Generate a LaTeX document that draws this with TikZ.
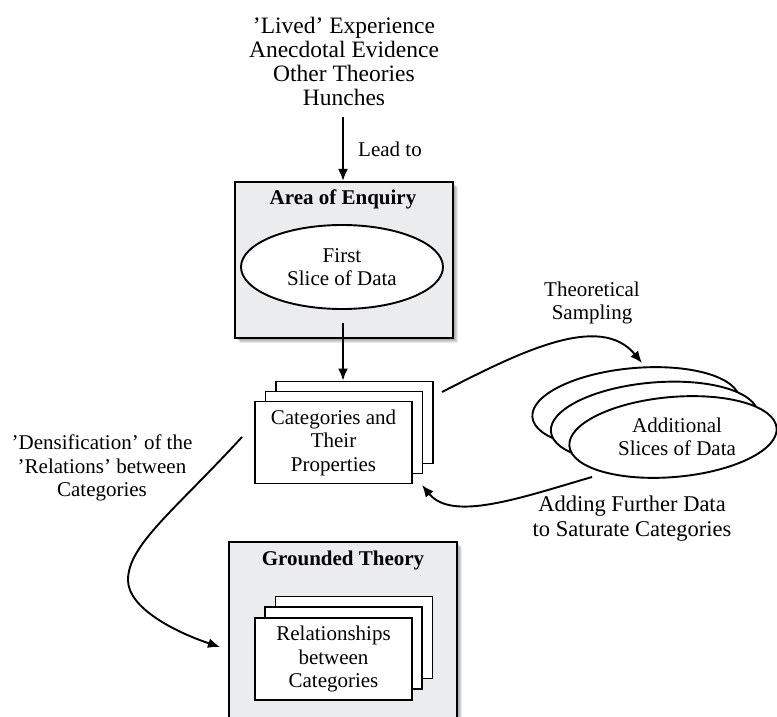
\documentclass[tikz,border=0pt]{standalone}
\usepackage{fontspec}
\setmainfont{Liberation Serif}
\usetikzlibrary{shapes.geometric,arrows.meta,calc}
\definecolor{panelgray}{RGB}{235,236,238}
\tikzset{
  lbl/.style={font=\fontsize{21}{23.5}\selectfont, align=center, inner sep=0pt},
  biglbl/.style={lbl, font=\fontsize{23.5}{24}\selectfont},
  widelbl/.style={lbl, font=\fontsize{22.5}{25}\selectfont},
  ttl/.style={font=\fontsize{21}{23.5}\selectfont\bfseries, inner sep=0pt},
  panel/.style={draw=black, line width=2.2pt, fill=panelgray, inner sep=0pt},
  card/.style={rectangle, draw=black, line width=1.9pt, fill=white,
    minimum width=157pt, minimum height=82pt, lbl},
  blob/.style={ellipse, draw=black, line width=1.9pt, fill=white, lbl},
  flow/.style={line width=1.9pt, -{Latex[length=12pt,width=10pt]}},
  softshadow/.style={fill=black, opacity=0.09},
}
\begin{document}
\begin{tikzpicture}[x=1pt,y=-1pt]
\useasboundingbox (0,0) rectangle (777,717);
\clip (0,0) rectangle (777,717);

% sources
\node[biglbl] (src) at (344,61) {'Lived' Experience\\Anecdotal Evidence\\Other Theories\\Hunches};

% area of enquiry panel with shadow
\foreach \d in {2,3,4,5}
  \fill[softshadow] (235+\d,182+\d) rectangle (453+\d,338+\d);
\node[panel, minimum width=218pt, minimum height=156pt] (area) at (344,260) {};
\node[ttl] (areatitle) at (343,199) {Area of Enquiry};
\node[blob, minimum width=202pt, minimum height=84pt] (first) at (342,267) {First\\Slice of Data};

% categories stack
\node[card] (c3) at (354.5,422.5) {};
\node[card] (c2) at (344,432.5) {};
\node[card] (c1) at (333.5,442.5) {Categories and\\Their\\Properties};

% additional slices
\node[blob, rotate=5, minimum width=208pt, minimum height=80pt] (e3) at (636,408) {};
\node[blob, rotate=5, minimum width=208pt, minimum height=80pt] (e2) at (654.5,422.5) {};
\node[blob, rotate=5, minimum width=208pt, minimum height=80pt] (e1) at (673,437) {};
\node[lbl] (addtxt) at (677,437) {Additional\\Slices of Data};

% grounded theory panel with shadow
\foreach \d in {2,3,4,5}
  \fill[softshadow] (229+\d,542+\d) rectangle (457+\d,740);
\node[panel, minimum width=228pt, minimum height=190pt] (gt) at (343,637) {};
\node[ttl] (gttitle) at (343,560) {Grounded Theory};
\node[card] (g3) at (354,637.5) {};
\node[card] (g2) at (343.5,648) {};
\node[card] (g1) at (333.5,659) {Relationships\\between\\Categories};

% labels
\node[lbl] (leadto) at (390,149) {Lead to};
\node[lbl] (theo) at (592,303) {Theoretical\\Sampling};
\node[widelbl] (adding) at (632,519) {Adding Further Data\\to Saturate Categories};
\node[lbl] (dens) at (102,468) {'Densification' of the\\'Relations' between\\Categories};

% connector ends
\coordinate (srcend) at (343,117);
\coordinate (firstout) at (343,323);
\coordinate (sampstart) at (442,392);
\coordinate (samptip) at (642,363);
\coordinate (addstart) at (592,477);
\coordinate (addtip) at (422,485);
\coordinate (densstart) at (242,437);
\coordinate (densbend) at (128,580);
\coordinate (denstip) at (220,647);

% connectors
\draw[flow] (srcend) -- (srcend |- area.north);
\draw[flow] (firstout) -- (firstout |- c3.north);
\draw[flow] (sampstart) .. controls (520,352) and (600,312) .. (samptip);
\draw[flow] (addstart) .. controls (520,498) and (452,522) .. (addtip);
\draw[flow] (densstart) .. controls (175,510) and (128,545) .. (densbend)
  .. controls (128,608) and (175,632) .. (denstip);
\end{tikzpicture}
\end{document}
